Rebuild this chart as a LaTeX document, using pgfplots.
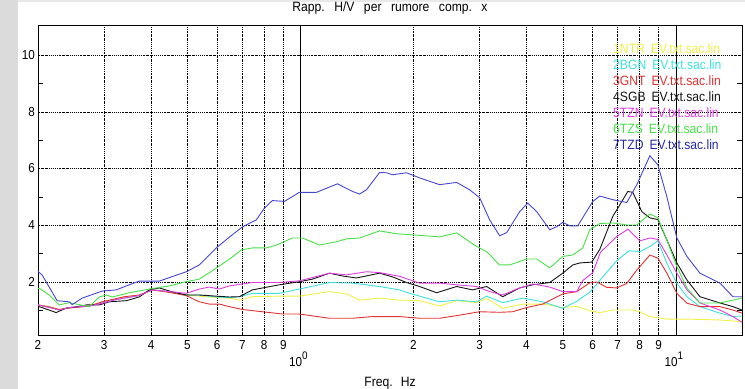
\documentclass[border=0pt]{standalone}
\usepackage{pgfplots}
\pgfplotsset{compat=1.18}
\usepackage{fontspec}
\setmainfont{Liberation Sans}[FakeStretch=0.9]
\definecolor{cY}{RGB}{240,240,70}
\definecolor{cC}{RGB}{60,225,225}
\definecolor{cR}{RGB}{225,50,50}
\definecolor{cK}{RGB}{20,20,20}
\definecolor{cM}{RGB}{225,60,225}
\definecolor{cG}{RGB}{70,225,70}
\definecolor{cB}{RGB}{70,70,210}
\definecolor{cBt}{RGB}{40,40,170}
\newcommand\tfont{\fontsize{13bp}{15bp}\selectfont}
\newcommand\lfont{\fontsize{13.5bp}{15bp}\selectfont}
\newcommand\lsp{\hspace{6bp}}
\begin{document}
\begin{tikzpicture}
\path[use as bounding box] (0,0) rectangle (745bp,389bp);
\fill[gray!28] (0,0) rectangle (18bp,389bp);
\fill[gray!18] (18bp,387bp) rectangle (745bp,389bp);
\begin{axis}[
  at={(38bp,54bp)}, anchor=south west,
  scale only axis, width=704bp, height=310bp,
  xmode=log, xmin=0.2, xmax=15, ymin=0.13, ymax=11.06,
  axis line style={black, line width=0.8bp},
  xtick={0.2,0.3,0.4,0.5,0.6,0.7,0.8,0.9,2,3,4,5,6,7,8,9},
  xticklabels={2,3,4,5,6,7,8,9,2,3,4,5,6,7,8,9},
  extra x ticks={1,10},
  extra x tick labels={10\raisebox{7bp}{\fontsize{11bp}{11bp}\selectfont 0},10\raisebox{7bp}{\fontsize{11bp}{11bp}\selectfont 1}},
  extra x tick style={grid=major, major grid style={solid, black, line width=0.6bp},
     xticklabel style={yshift=-12bp, xshift=-2bp}},
  ytick={2,4,6,8,10},
  minor ytick={1,3,5,7,9},
  grid=major,
  major grid style={black, line width=0.55bp, dash pattern=on 1.6bp off 1bp on 0.6bp off 1bp},
  tick align=inside,
  major tick length=0bp, minor tick length=5bp,
  tick style={black, line width=0.6bp},
  xtick pos=bottom,
  /pgf/number format/assume math mode=true,
  tick label style={font=\tfont, text=black},
  xticklabel style={inner sep=0pt, yshift=-5bp},
  yticklabel style={inner sep=0pt, xshift=-3bp},
  title={Rapp.\hspace{0.7em}H/V\hspace{0.7em}per\hspace{0.7em}rumore\hspace{0.7em}comp.\hspace{0.7em}x},
  title style={font=\lfont, at={(axis description cs:0.5,1)}, anchor=center, yshift=11bp},
  xlabel={Freq.\hspace{0.6em}Hz},
  xlabel style={font=\lfont, at={(axis description cs:0.5,0)}, anchor=center, yshift=-48bp},
  legend style={at={(axis description cs:0.8168,0.94)}, anchor=north west, draw=none, fill=none,
     font=\lfont, inner sep=0pt, row sep=0pt,
     nodes={inner sep=0pt, text height=10bp, text depth=6bp, anchor=west}},
  legend cell align=left,
  legend image code/.code={},
  every axis plot/.append style={line width=0.9bp, mark=none},
]
\addplot[cY] coordinates {(0.2,1.19) (0.2142,1.14) (0.2277,1.03) (0.2421,1.10) (0.2737,1.15) (0.2965,1.30) (0.3394,1.45) (0.3721,1.52) (0.403,1.72) (0.4557,1.65) (0.4966,1.54) (0.5970,1.45) (0.6465,1.43) (0.6877,1.36) (0.7447,1.48) (0.8790,1.50) (0.9939,1.50) (1.1950,1.66) (1.3264,1.58) (1.4368,1.36) (1.6245,1.43) (1.8365,1.36) (2.0764,1.34) (2.3478,1.15) (2.6062,1.34) (2.9459,1.27) (3.1333,1.42) (3.4567,1.07) (3.9084,1.22) (4.4183,1.22) (4.9968,1.10) (5.4450,1.14) (5.8979,0.98) (6.2710,0.92) (6.7920,1.01) (7.6789,1.01) (8.0168,0.95) (8.5248,0.78) (9.4624,0.69) (10.70,0.69) (13.10,0.66) (15,0.60)};
\addlegendentry{\textcolor{cY}{1NTR\lsp EV.txt.sac.lin}}
\addplot[cC] coordinates {(0.2,1.19) (0.2142,1.12) (0.2277,1.01) (0.2421,1.10) (0.2737,1.15) (0.2965,1.27) (0.3231,1.38) (0.3721,1.52) (0.403,1.72) (0.4557,1.65) (0.4966,1.54) (0.5378,1.54) (0.5970,1.47) (0.6465,1.45) (0.6877,1.48) (0.7447,1.60) (0.8790,1.60) (0.9939,1.75) (1.1950,1.98) (1.3762,1.96) (1.6245,1.84) (1.8365,1.72) (1.9530,1.60) (2.0764,1.50) (2.3478,1.30) (2.6062,1.36) (2.9459,1.30) (3.1333,1.50) (3.4567,1.27) (3.9084,1.43) (4.4183,1.30) (4.9968,1.07) (5.4450,1.32) (5.8979,1.64) (6.4,2.19) (6.9611,2.75) (7.5,3.10) (8.0168,3.07) (8.5248,3.25) (8.9536,3.45) (9.4624,2.66) (10.06,1.95) (10.70,1.48) (11.59,1.13) (13.10,0.90) (14.19,0.78) (15,0.80)};
\addlegendentry{\textcolor{cC}{2BGN\lsp EV.txt.sac.lin}}
\addplot[cR] coordinates {(0.2,1.19) (0.2142,1.12) (0.2277,1.03) (0.2421,1.08) (0.2737,1.15) (0.2965,1.30) (0.3394,1.48) (0.3721,1.54) (0.403,1.72) (0.4392,1.65) (0.4966,1.52) (0.5378,1.30) (0.5717,1.22) (0.6081,1.22) (0.6465,1.13) (0.7005,1.03) (0.7918,0.95) (0.8954,0.87) (0.9939,0.87) (1.1950,0.72) (1.3762,0.72) (1.5560,0.78) (1.8365,0.78) (2.0764,0.72) (2.3478,0.72) (2.6546,0.83) (3.0009,0.95) (3.3936,0.93) (3.6755,0.95) (4.0059,1.10) (4.4183,1.22) (4.9968,1.58) (5.4450,1.66) (5.8979,1.97) (6.1563,2.0) (6.5464,1.81) (6.9611,1.79) (7.4004,1.95) (7.8705,2.42) (8.5248,2.95) (8.9536,2.84) (9.4624,2.31) (10.06,1.60) (10.70,1.25) (11.59,1.13) (13.10,1.13) (14.19,1.01) (15,0.90)};
\addlegendentry{\textcolor{cR}{3GNT\lsp EV.txt.sac.lin}}
\addplot[cK] coordinates {(0.2,1.08) (0.2014,1.13) (0.2142,1.01) (0.2235,0.92) (0.2377,1.08) (0.2527,1.12) (0.2687,1.19) (0.2911,1.19) (0.3096,1.30) (0.3436,1.34) (0.3721,1.47) (0.3957,1.72) (0.4207,1.79) (0.4557,1.65) (0.4966,1.54) (0.5378,1.54) (0.5970,1.50) (0.6465,1.47) (0.6877,1.48) (0.7447,1.72) (0.8790,1.90) (0.9939,2.01) (1.0765,2.10) (1.1950,2.31) (1.2942,2.21) (1.4104,2.14) (1.6245,2.31) (1.7593,2.18) (1.9173,1.98) (2.0764,1.84) (2.3050,1.62) (2.6062,1.84) (2.8746,1.72) (3.1333,1.84) (3.4567,1.48) (3.8371,1.79) (4.1556,1.90) (4.6132,1.98) (4.9968,2.31) (5.3128,2.60) (5.5463,2.67) (5.9704,2.70) (6.2710,3.15) (6.7920,4.31) (7.4473,5.19) (7.6789,5.16) (8.1157,4.48) (8.5248,4.26) (8.9536,4.20) (9.4624,3.48) (10.06,2.67) (10.70,2.07) (11.59,1.48) (13.10,1.26) (14.19,1.13) (15,1.01)};
\addlegendentry{\textcolor{cK}{4SGB\lsp EV.txt.sac.lin}}
\addplot[cM] coordinates {(0.2,1.19) (0.2142,1.10) (0.2277,1.01) (0.2421,1.10) (0.2737,1.15) (0.2965,1.25) (0.3231,1.38) (0.3721,1.52) (0.403,1.72) (0.4557,1.65) (0.4966,1.60) (0.5378,1.75) (0.5717,1.82) (0.6081,1.75) (0.6465,1.86) (0.7447,1.98) (0.8790,1.98) (0.9939,2.04) (1.1950,2.31) (1.3264,2.25) (1.4997,2.36) (1.6245,2.33) (1.8365,2.20) (2.0764,1.96) (2.3478,1.96) (2.6062,1.90) (2.9459,1.84) (3.1915,1.66) (3.4567,1.54) (3.7670,1.75) (4.1556,1.93) (4.6132,1.82) (4.9968,1.66) (5.4450,1.66) (5.6494,2.05) (6.0075,2.33) (6.3,3.05) (6.9611,3.60) (7.4473,3.86) (8.0168,3.45) (8.5248,3.55) (8.9536,3.50) (9.4624,2.95) (10.06,2.31) (10.70,1.72) (11.59,1.26) (13.10,1.01) (14.19,0.78) (15,0.58)};
\addlegendentry{\textcolor{cM}{5TZN\lsp EV.txt.sac.lin}}
\addplot[cG] coordinates {(0.2,1.77) (0.2014,1.78) (0.2142,1.54) (0.2277,1.19) (0.2421,1.27) (0.2574,1.20) (0.2737,1.13) (0.2911,1.47) (0.3040,1.54) (0.3153,1.47) (0.3499,1.62) (0.3957,1.75) (0.4474,1.86) (0.4966,2.01) (0.5378,2.10) (0.5970,2.49) (0.6465,2.80) (0.6962,3.13) (0.7447,3.20) (0.8116,3.20) (0.8630,3.30) (0.9521,3.55) (1.0124,3.55) (1.1237,3.30) (1.2474,3.42) (1.3264,3.52) (1.4368,3.55) (1.6245,3.80) (1.8030,3.70) (1.9893,3.66) (2.3478,3.59) (2.6062,3.73) (2.9459,3.25) (3.1333,3.07) (3.3936,2.60) (3.6084,2.60) (4.0059,2.81) (4.2588,2.81) (4.6132,2.50) (4.9968,2.90) (5.3128,2.95) (5.6494,3.20) (5.8979,3.84) (6.2710,4.06) (6.7920,4.08) (7.4004,4.01) (7.8705,4.01) (8.5248,4.40) (8.9536,4.26) (9.4624,3.48) (10.06,2.54) (10.70,1.79) (11.59,1.26) (13.10,1.26) (14.19,1.36) (15,1.43)};
\addlegendentry{\textcolor{cG}{6TZS\lsp EV.txt.sac.lin}}
\addplot[cB] coordinates {(0.2,2.37) (0.205,2.25) (0.2249,1.34) (0.2421,1.30) (0.2466,1.20) (0.2622,1.43) (0.2965,1.68) (0.3231,1.72) (0.3499,1.90) (0.3721,2.03) (0.4207,2.03) (0.4557,2.19) (0.4966,2.36) (0.5378,2.60) (0.5970,3.20) (0.6465,3.58) (0.7005,3.94) (0.7632,4.19) (0.8017,4.60) (0.8418,4.87) (0.9064,4.84) (0.9939,5.16) (1.1033,5.16) (1.2551,5.46) (1.3762,5.19) (1.4368,5.10) (1.4997,5.25) (1.6245,5.86) (1.6956,5.85) (1.7593,5.78) (1.9173,5.85) (2.0764,5.67) (2.3478,5.43) (2.6062,5.51) (2.8222,5.25) (3.0009,4.97) (3.1915,4.19) (3.3936,3.63) (3.5426,3.74) (3.8371,4.48) (4.0306,4.78) (4.2588,4.48) (4.6132,3.84) (4.8162,3.95) (4.9968,4.10) (5.2159,3.98) (5.4786,3.98) (6.0075,4.84) (6.2710,5.03) (6.7920,4.90) (7.4004,4.80) (7.8705,5.43) (8.5248,6.45) (8.9536,6.13) (9.4624,5.0) (10.06,3.55) (10.70,2.90) (11.59,2.31) (13.10,1.96) (14.19,1.48) (15,1.48)};
\addlegendentry{\textcolor{cBt}{7TZD\lsp EV.txt.sac.lin}}
\end{axis}
\end{tikzpicture}
\end{document}
